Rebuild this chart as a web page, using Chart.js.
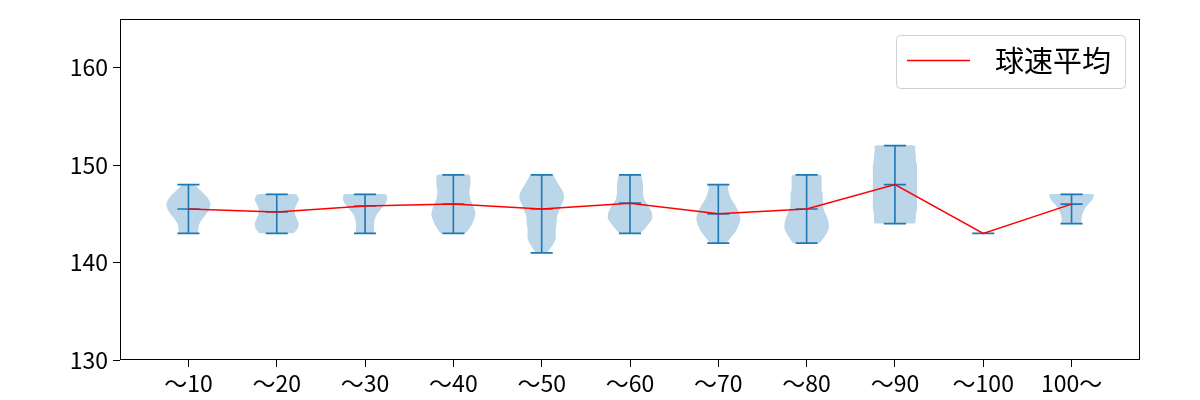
<!DOCTYPE html>
<html>
<head>
<meta charset="utf-8">
<script src="https://cdn.jsdelivr.net/npm/chart.js@4.4.1/dist/chart.umd.min.js"></script>
<style>
  html, body { margin: 0; padding: 0; background: #fff; }
  #wrap { width: 1200px; height: 400px; }
</style>
</head>
<body>
<div id="wrap"><canvas id="chart" width="1200" height="400"></canvas></div>
<script>
const categories = ['〜10', '〜20', '〜30', '〜40', '〜50', '〜60', '〜70', '〜80', '〜90', '〜100', '100〜'];
const minVals  = [143, 143, 143, 143, 141, 143, 142, 142, 144, 143, 144];
const maxVals  = [148, 147, 147, 149, 149, 149, 148, 149, 152, 143, 147];
const meanVals = [145.5, 145.2, 145.8, 146.0, 145.5, 146.1, 145.0, 145.5, 148.0, 143.0, 146.0];
const yTicks = [130, 140, 150, 160];

// relative violin width (1 = widest), read bottom (min) to top (max) in even steps
const violinShapes = [
    [0.41, 0.45, 0.50, 0.64, 0.82, 0.95, 1.00, 0.91, 0.73, 0.50, 0.27],
    [0.77, 0.95, 1.00, 0.91, 0.82, 0.82, 0.91, 1.00, 0.86],
    [0.41, 0.41, 0.41, 0.45, 0.55, 0.73, 0.91, 1.00, 0.95],
    [0.55, 0.73, 0.86, 0.95, 1.00, 0.95, 0.86, 0.77, 0.73, 0.73, 0.77, 0.77, 0.73],
    [0.23, 0.41, 0.55, 0.64, 0.64, 0.64, 0.68, 0.68, 0.73, 0.82, 0.91, 1.00, 1.00, 0.91, 0.77, 0.64, 0.50],
    [0.45, 0.68, 0.86, 1.00, 1.00, 0.91, 0.77, 0.64, 0.59, 0.59, 0.59, 0.55, 0.50],
    [0.36, 0.55, 0.73, 0.86, 0.95, 1.00, 0.95, 0.86, 0.73, 0.59, 0.50, 0.45, 0.41],
    [0.59, 0.77, 0.91, 1.00, 1.00, 0.95, 0.86, 0.77, 0.73, 0.73, 0.73, 0.68, 0.68, 0.68, 0.64],
    [0.91, 0.95, 0.95, 1.00, 1.00, 1.00, 1.00, 1.00, 1.00, 1.00, 1.00, 1.00, 1.00, 0.95, 0.95, 0.91, 0.91],
    [],
    [0.45, 0.45, 0.50, 0.59, 0.77, 0.95, 1.00]
];

const meanLabel = '球速平均';
const FONT = "'Noto Sans CJK JP', 'Noto Sans', sans-serif";
const blue = '#1f77b4';

function violinPoints(i) {
    const d = violinShapes[i];
    if (!d.length) return [];
    const c = i + 1;
    const step = (maxVals[i] - minVals[i]) / (d.length - 1);
    const pts = [];
    d.forEach((w, k) => pts.push({ x: c + 0.25 * w, y: minVals[i] + k * step }));
    for (let k = d.length - 1; k >= 0; k--) {
        pts.push({ x: c - 0.25 * d[k], y: minVals[i] + k * step });
    }
    pts.push(pts[0]);
    return pts;
}

const violinSets = categories.map((c, i) => ({
    data: violinPoints(i),
    showLine: true,
    fill: 'shape',
    backgroundColor: 'rgba(31, 119, 180, 0.3)',
    borderColor: 'rgba(0, 0, 0, 0)',
    borderWidth: 0,
    pointRadius: 0,
    tension: 0.2,
    order: 3
}));

const barPoints = [];
categories.forEach((c, i) => {
    const x = i + 1;
    [maxVals[i], minVals[i], meanVals[i]].forEach(v => {
        barPoints.push({ x: x - 0.125, y: v }, { x: x + 0.125, y: v }, { x: x, y: null });
    });
    barPoints.push({ x: x, y: minVals[i] }, { x: x, y: maxVals[i] }, { x: x, y: null });
});

const meanPoints = categories.map((c, i) => ({ x: i + 1, y: meanVals[i] }));

const frameAndLegend = {
    id: 'frameAndLegend',
    afterDraw(chart) {
        const { ctx, chartArea: a } = chart;
        ctx.save();
        ctx.strokeStyle = '#000';
        ctx.lineWidth = 1;
        ctx.strokeRect(a.left + 0.5, a.top + 0.5, a.right - a.left - 1, a.bottom - a.top - 1);

        ctx.font = '29px ' + FONT;
        const tw = ctx.measureText(meanLabel).width;
        const w = 100 + tw + 13, h = 53;
        const x = a.right - 15 - w, y = a.top + 16;
        ctx.beginPath();
        ctx.roundRect(x + 0.5, y + 0.5, w, h, 4);
        ctx.fillStyle = 'rgba(255, 255, 255, 0.8)';
        ctx.fill();
        ctx.strokeStyle = '#d0d0d0';
        ctx.stroke();

        ctx.beginPath();
        ctx.moveTo(x + 11, y + 25.5);
        ctx.lineTo(x + 74, y + 25.5);
        ctx.strokeStyle = 'red';
        ctx.lineWidth = 1.5;
        ctx.stroke();

        ctx.fillStyle = '#000';
        ctx.textBaseline = 'middle';
        ctx.textAlign = 'left';
        ctx.fillText(meanLabel, x + 99, y + 26);
        ctx.restore();
    }
};

new Chart(document.getElementById('chart'), {
    type: 'scatter',
    data: {
        datasets: [
            {
                label: meanLabel,
                data: meanPoints,
                showLine: true,
                borderColor: 'red',
                borderWidth: 1.5,
                pointRadius: 0,
                fill: false,
                order: 1
            },
            {
                data: barPoints,
                showLine: true,
                spanGaps: false,
                borderColor: blue,
                borderWidth: 1.6,
                pointRadius: 0,
                fill: false,
                order: 2
            },
            ...violinSets
        ]
    },
    options: {
        responsive: false,
        animation: false,
        devicePixelRatio: 1,
        layout: { padding: { left: 0, right: 60, top: 19, bottom: 0 } },
        plugins: {
            legend: { display: false },
            tooltip: { enabled: false }
        },
        scales: {
            x: {
                type: 'linear',
                min: 0.225,
                max: 11.775,
                afterBuildTicks: s => { s.ticks = categories.map((c, i) => ({ value: i + 1 })); },
                afterFit: s => { s.height = 40; },
                ticks: {
                    autoSkip: false,
                    maxRotation: 0,
                    color: '#000',
                    padding: 2,
                    font: { family: FONT, size: 23 },
                    callback: v => categories[v - 1]
                },
                grid: { drawOnChartArea: false, drawTicks: true, tickLength: 7, color: '#000' },
                border: { display: false }
            },
            y: {
                min: 130,
                max: 165,
                afterBuildTicks: s => { s.ticks = yTicks.map(v => ({ value: v })); },
                afterFit: s => { s.width = 120; },
                ticks: {
                    color: '#000',
                    padding: 5,
                    font: { family: FONT, size: 23 }
                },
                grid: { drawOnChartArea: false, drawTicks: true, tickLength: 7, color: '#000' },
                border: { display: false }
            }
        }
    },
    plugins: [frameAndLegend]
});
</script>
</body>
</html>
